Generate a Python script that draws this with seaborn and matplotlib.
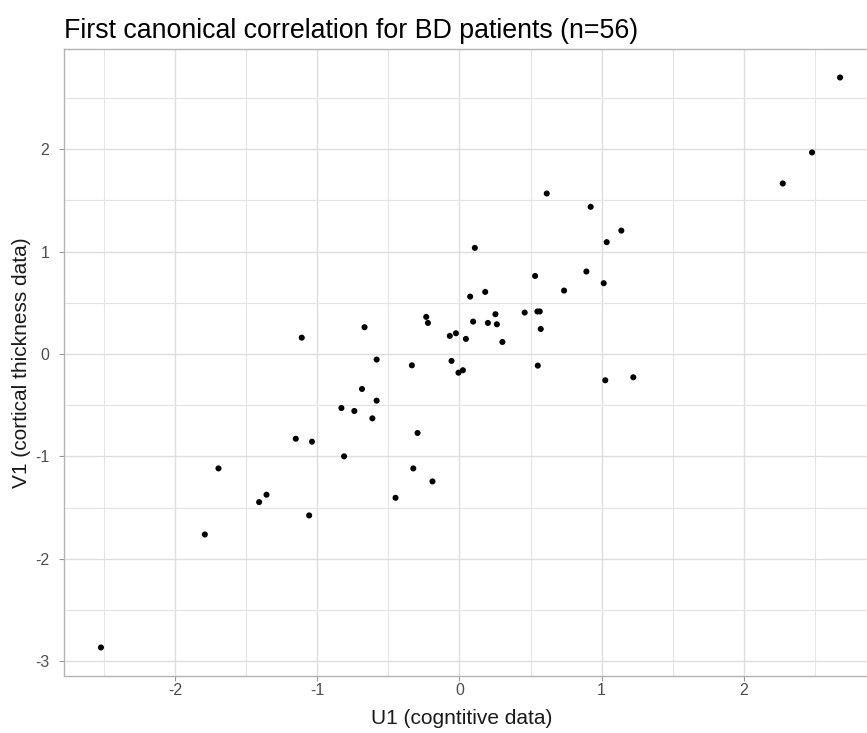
import numpy as np
import pandas as pd
import matplotlib
matplotlib.use("Agg")
import matplotlib.pyplot as plt
from matplotlib.ticker import MultipleLocator
import seaborn as sns

# canonical variates (n=56)
u1 = [2.678, 2.481, 2.275, 0.614, 0.923, 1.139, 1.036, 0.108, 0.893, 1.015,
      0.532, 0.736, 0.181, 0.075, 0.459, 0.548, 0.565, 0.253, 0.096, 0.200,
      0.263, 0.572, -0.068, -0.025, 0.045, 0.302, -0.056, -0.007, 0.024, 0.551,
      1.026, 1.223, -1.110, -0.668, -0.234, -0.222, -0.583, -0.335, -0.686, -0.583,
      -0.831, -0.740, -0.613, -0.295, -1.152, -1.038, -0.812, -1.696, -0.325, -0.190,
      -1.358, -1.410, -0.450, -1.058, -1.792, -2.523]
v1 = [2.700, 1.968, 1.665, 1.567, 1.437, 1.205, 1.092, 1.036, 0.805, 0.691,
      0.762, 0.619, 0.606, 0.560, 0.404, 0.415, 0.415, 0.388, 0.316, 0.303,
      0.290, 0.244, 0.176, 0.202, 0.147, 0.117, -0.068, -0.183, -0.159, -0.114,
      -0.257, -0.228, 0.159, 0.261, 0.362, 0.303, -0.055, -0.111, -0.342, -0.456,
      -0.528, -0.557, -0.629, -0.772, -0.828, -0.857, -1.000, -1.118, -1.118, -1.245,
      -1.375, -1.447, -1.405, -1.577, -1.763, -2.867]

df = pd.DataFrame({"U1": u1, "V1": v1})

sns.set_theme(style="whitegrid")
plt.rcParams["font.family"] = ["Liberation Sans", "DejaVu Sans"]
plt.rcParams["axes.unicode_minus"] = False

fig = plt.figure(figsize=(8.67, 7.33), dpi=100)
# panel runs a bit past the right edge, like the cropped original
ax = fig.add_axes([64 / 867, 57 / 733, (877 - 64) / 867, (676 - 49) / 733])

sns.scatterplot(data=df, x="U1", y="V1", color="black", s=19, edgecolor="none", ax=ax)

# ggplot-style 5% expansion
def expand(vals, mult=0.05):
    lo, hi = min(vals), max(vals)
    pad = (hi - lo) * mult
    return lo - pad, hi + pad

ax.set_xlim(*expand(u1))
ax.set_ylim(*expand(v1))

ax.xaxis.set_major_locator(MultipleLocator(1))
ax.yaxis.set_major_locator(MultipleLocator(1))
ax.xaxis.set_minor_locator(MultipleLocator(0.5))
ax.yaxis.set_minor_locator(MultipleLocator(0.5))
ax.grid(which="major", color="#DEDEDE", linewidth=1.0)
ax.grid(which="minor", color="#E4E4E4", linewidth=0.8)
ax.set_axisbelow(True)

ax.tick_params(which="major", length=3.5, width=0.8, color="#999999",
               labelcolor="#4D4D4D", labelsize=11.5, bottom=True, left=True)
ax.tick_params(axis="x", which="major", pad=1.5)
ax.tick_params(axis="y", which="major", pad=7)
ax.tick_params(which="minor", length=0)

for side in ["top", "left", "bottom", "right"]:
    ax.spines[side].set_color("#B3B3B3")
    ax.spines[side].set_linewidth(1.0)

ax.set_xlabel("U1 (cogntitive data)", fontsize=15, color="#1A1A1A", labelpad=2)
ax.xaxis.set_label_coords((462 - 64) / (877 - 64), -0.052)
ax.set_ylabel("V1 (cortical thickness data)", fontsize=15, color="#1A1A1A", labelpad=3)
ax.set_title("First canonical correlation for BD patients (n=56)", loc="left",
             fontsize=19.3, color="black", pad=8)

fig.savefig("out.png", dpi=100)
